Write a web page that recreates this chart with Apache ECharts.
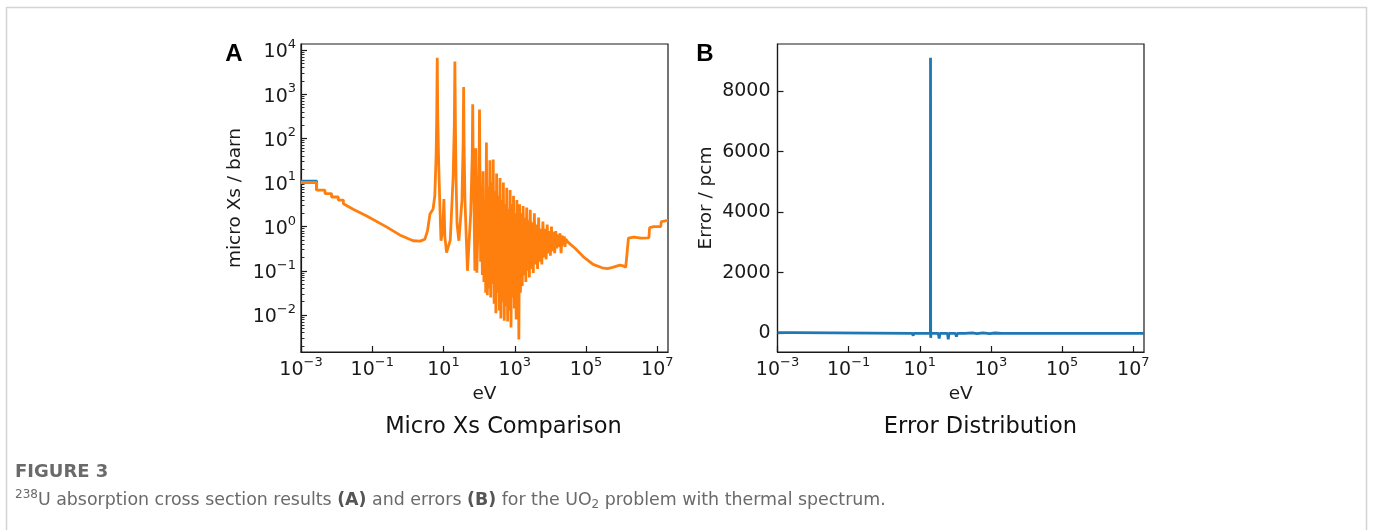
<!DOCTYPE html>
<html>
<head>
<meta charset="utf-8">
<script src="https://cdn.jsdelivr.net/npm/echarts@6/dist/echarts.min.js"></script>
<style>
html, body { margin: 0; padding: 0; background: #fff; }
#chart { width: 1373px; height: 530px; }
</style>
</head>
<body>
<div id="chart"></div>
<script>
// A: 238U micro absorption XS, eV / barn
// orange = calc; blue = reference, hidden under orange except on the first step
var xsRefHead = [[0.001, 10.8], [0.00275, 10.8], [0.00275, 6.7]];
var xsCalc = [
    [0.001, 10.0], [0.00275, 10.0], [0.00275, 6.7], [0.0047, 6.7], [0.0047, 5.6],
    [0.0072, 5.6], [0.0072, 4.7], [0.0111, 4.7], [0.0111, 4.0], [0.0155, 4.0],
    [0.0155, 3.3], [0.03, 2.45], [0.07, 1.75], [0.25, 0.99], [0.59, 0.65],
    [1.0, 0.54], [1.4, 0.48], [2.2, 0.47], [3.0, 0.52], [3.55, 0.8],
    [4.15, 1.9], [5.1, 2.5], [5.7, 5], [6.2, 40], [6.45, 300], [6.67, 6700],
    [6.9, 300], [7.3, 30], [7.9, 3], [8.5, 0.48], [9.6, 0.9], [10.24, 4.2],
    [10.9, 0.6], [12.2, 0.26], [15.5, 0.5], [18.6, 13], [20.1, 200], [20.87, 5500],
    [21.7, 150], [22.5, 12], [24, 1.15], [27, 0.48], [33, 4], [35.6, 80],
    [36.7, 1450], [37.9, 60], [40, 4], [47, 0.1], [58, 2], [64, 40],
    [66, 590], [68, 30], [72, 2.5], [76, 0.1], [80.7, 60], [86, 0.09],
    [95, 2], [100, 30], [102.5, 450], [105, 25], [108, 3],
    [110, 0.16], [116, 8], [123, 0.08], [129, 18], [136, 0.056],
    [145, 4], [153, 0.032], [160, 80], [170, 0.028], [180, 8],
    [191, 0.04], [200, 32], [211, 0.025], [224, 10], [237, 0.05],
    [248, 33], [263, 0.018], [279, 6.3], [295, 0.011], [309, 16],
    [327, 0.032], [347, 5], [367, 0.0126], [385, 12.6], [407, 0.0083],
    [432, 4], [457, 0.02], [479, 10], [507, 0.0074], [537, 3.2],
    [569, 0.016], [596, 7.6], [631, 0.0071], [668, 2.5], [708, 0.0126],
    [741, 6.8], [785, 0.0052], [832, 3.2], [881, 0.025], [923, 5],
    [977, 0.014], [1035, 2], [1096, 0.0079], [1148, 4], [1216, 0.02],
    [1259, 1.6], [1303, 0.0028], [1365, 3.2], [1445, 0.032], [1531, 2],
    [1622, 0.045], [1718, 2.95], [1820, 0.079], [1928, 1.6], [2042, 0.056],
    [2163, 2.7], [2291, 0.1], [2427, 1.4], [2570, 0.071], [2723, 2.4],
    [2884, 0.11], [3090, 1.26], [3311, 0.089], [3548, 2], [3802, 0.14],
    [4074, 1.12], [4365, 0.11], [4677, 1.6], [5012, 0.16], [5370, 0.89],
    [5754, 0.14], [6166, 1.3], [6607, 0.2], [7079, 0.89], [7586, 0.18],
    [8128, 1.12], [8710, 0.25], [9333, 0.79], [10000, 0.22], [10715, 1.0],
    [11482, 0.28], [12303, 0.76], [13183, 0.25], [14125, 0.79], [15136, 0.32],
    [16218, 0.66], [17378, 0.35], [18621, 0.71], [19953, 0.25], [21380, 0.63],
    [22909, 0.38], [24547, 0.6], [25704, 0.35], [26915, 0.52],
    [31600, 0.44], [50000, 0.32], [83000, 0.21], [158000, 0.14], [282000, 0.117],
    [400000, 0.112], [560000, 0.12], [890000, 0.135], [1.1e6, 0.13], [1.2e6, 0.135],
    [1.3e6, 0.12], [1.45e6, 0.3], [1.55e6, 0.55], [2.2e6, 0.58], [3.5e6, 0.55],
    [5.8e6, 0.56], [6.1e6, 0.95], [8e6, 1.0], [1.25e7, 1.0], [1.3e7, 1.3], [2e7, 1.38]
];

// B: error, eV / pcm
var errPoints = [
    [0.001, 25], [0.0028, 25], [0.0028, 0], [6.2, 0], [6.5, -80], [6.8, 0],
    [19.8, 0], [20.0, 9100], [20.2, -150], [20.6, 0],
    [33, 0], [35, -170], [37, 0], [60, 0], [63, -200], [66, 0],
    [100, 0], [107, -110], [114, 0], [185, 0], [197, -60], [210, 0],
    [300, 15], [400, -10], [600, 12], [900, -8], [1300, 10], [2000, -5], [2e7, 0]
];

var xTickValues = [1e-3, 1e-1, 1e1, 1e3, 1e5, 1e7];
var xsTickValues = [1e-2, 1e-1, 1, 1e1, 1e2, 1e3, 1e4];
var errTickValues = [0, 2000, 4000, 6000, 8000];

// log minor ticks 2..9 per decade
var xsMinorTicks = [];
for (var d = -3; d <= 4; d++) {
    for (var k = 2; k <= 9; k++) xsMinorTicks.push(k * Math.pow(10, d));
}

var FONT = 'DejaVu Sans';
var INK = '#1a1a1a';
var CAP = '#6a6a6a';

function powLabel(v) {
    var e = Math.round(Math.log10(v));
    return '{b|10}{e|' + (e < 0 ? '\u2212' + (-e) : e) + '}';
}
var powRich = {
    b: { fontSize: 19, fontFamily: FONT, color: INK, lineHeight: 24, verticalAlign: 'bottom' },
    e: { fontSize: 13, fontFamily: FONT, color: INK, lineHeight: 13, verticalAlign: 'top' }
};

function logXAxis(grid) {
    return {
        type: 'log', gridIndex: grid, min: 1e-3, max: 2e7,
        name: 'eV', nameLocation: 'middle', nameGap: 31,
        nameTextStyle: { fontSize: 18.5, fontFamily: FONT, color: INK },
        axisLine: { onZero: false, lineStyle: { color: INK, width: 1.2 } },
        axisTick: { inside: true, length: 6, customValues: xTickValues, lineStyle: { color: INK, width: 1.2 } },
        axisLabel: { customValues: xTickValues, margin: 4, formatter: powLabel, rich: powRich },
        splitLine: { show: false }, minorTick: { show: false }
    };
}

var chart = echarts.init(document.getElementById('chart'));

var option = {
    animation: false,
    backgroundColor: '#fff',
    grid: [
        { left: 301, top: 44, width: 367, height: 308, show: true, borderColor: INK, borderWidth: 1.2, backgroundColor: 'transparent' },
        { left: 777.5, top: 44, width: 366.5, height: 308, show: true, borderColor: INK, borderWidth: 1.2, backgroundColor: 'transparent' }
    ],
    xAxis: [logXAxis(0), logXAxis(1)],
    yAxis: [
        {
            type: 'log', gridIndex: 0, min: 0.00145, max: 13700, position: 'left',
            name: 'micro Xs / barn', nameLocation: 'middle', nameGap: 56,
            nameTextStyle: { fontSize: 18.5, fontFamily: FONT, color: INK },
            axisLine: { lineStyle: { color: INK, width: 1.2 } },
            axisTick: { inside: true, length: 6, customValues: xsTickValues, lineStyle: { color: INK, width: 1.2 } },
            axisLabel: { customValues: xsTickValues, margin: 5, formatter: powLabel, rich: powRich },
            splitLine: { show: false }
        },
        {
            // minor ticks only
            type: 'log', gridIndex: 0, min: 0.00145, max: 13700, position: 'left',
            axisLine: { show: false },
            axisTick: { inside: true, length: 3.5, customValues: xsMinorTicks, lineStyle: { color: INK, width: 0.9 } },
            axisLabel: { show: false },
            splitLine: { show: false }
        },
        {
            type: 'value', gridIndex: 1, min: -617, max: 9551, position: 'left',
            name: 'Error / pcm', nameLocation: 'middle', nameGap: 62,
            nameTextStyle: { fontSize: 18.5, fontFamily: FONT, color: INK },
            axisLine: { onZero: false, lineStyle: { color: INK, width: 1.2 } },
            axisTick: { inside: true, length: 6, customValues: errTickValues, lineStyle: { color: INK, width: 1.2 } },
            axisLabel: {
                customValues: errTickValues, margin: 7, fontSize: 19, fontFamily: FONT, color: INK,
                formatter: function (v) { return String(v); }
            },
            splitLine: { show: false }
        }
    ],
    series: [
        {
            name: 'ref', type: 'line', xAxisIndex: 0, yAxisIndex: 0,
            data: xsRefHead, showSymbol: false, symbol: 'none',
            lineStyle: { color: '#1f77b4', width: 2.8 }
        },
        {
            name: 'calc', type: 'line', xAxisIndex: 0, yAxisIndex: 0,
            data: xsCalc, showSymbol: false, symbol: 'none',
            lineStyle: { color: '#ff7f0e', width: 2.8 }
        },
        {
            name: 'error', type: 'line', xAxisIndex: 1, yAxisIndex: 2,
            data: errPoints, showSymbol: false, symbol: 'none',
            lineStyle: { color: '#1f77b4', width: 2.8 }
        }
    ],
    graphic: [
        { type: 'rect', shape: { x: 6.5, y: 7.5, width: 1360, height: 540 }, style: { fill: 'none', stroke: '#d4d4d4', lineWidth: 1.5 }, silent: true },
        { type: 'text', x: 234, y: 54, style: { text: 'A', fontSize: 24, fontWeight: 'bold', fontFamily: 'Liberation Sans', fill: '#000', align: 'center', verticalAlign: 'middle' } },
        { type: 'text', x: 705, y: 54, style: { text: 'B', fontSize: 24, fontWeight: 'bold', fontFamily: 'Liberation Sans', fill: '#000', align: 'center', verticalAlign: 'middle' } },
        { type: 'text', x: 503.5, y: 427, style: { text: 'Micro Xs Comparison', fontSize: 22.5, fontFamily: FONT, fill: '#111', align: 'center', verticalAlign: 'middle' } },
        { type: 'text', x: 980.5, y: 427, style: { text: 'Error Distribution', fontSize: 22.5, fontFamily: FONT, fill: '#111', align: 'center', verticalAlign: 'middle' } },
        { type: 'text', x: 15, y: 472, style: { text: 'FIGURE 3', fontSize: 18, fontWeight: 'bold', fontFamily: FONT, fill: CAP, align: 'left', verticalAlign: 'middle' } },
        {
            type: 'text', x: 15, y: 500,
            style: {
                text: '{sup|238}{t|U absorption cross section results }{bd|(A)}{t| and errors }{bd|(B)}{t| for the UO}{sub|2}{t| problem with thermal spectrum.}',
                align: 'left', verticalAlign: 'middle', fontSize: 17.4, fontFamily: FONT, fill: CAP,
                rich: {
                    t: { fontSize: 17.4, fontFamily: FONT, fill: CAP, lineHeight: 22, verticalAlign: 'middle' },
                    bd: { fontSize: 17.4, fontFamily: FONT, fontWeight: 'bold', fill: '#555', lineHeight: 22, verticalAlign: 'middle' },
                    sup: { fontSize: 12, fontFamily: FONT, fill: CAP, lineHeight: 14, verticalAlign: 'top' },
                    sub: { fontSize: 12, fontFamily: FONT, fill: CAP, lineHeight: 12, verticalAlign: 'bottom' }
                }
            }
        }
    ]
};

chart.setOption(option);
</script>
</body>
</html>
